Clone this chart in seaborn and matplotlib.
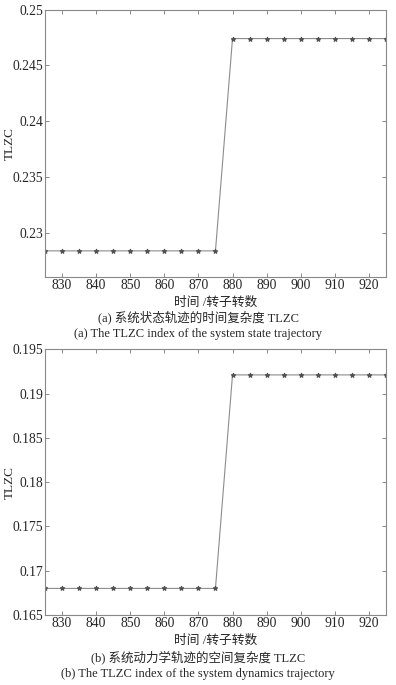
"""  TLZC index of rotor system trajectories (two stacked panels)  """

import matplotlib
matplotlib.use('Agg')
import matplotlib.pyplot as plt
import numpy as np
import pandas as pd
import seaborn as sns


# ~~~~~~~~~~   Data   ~~~~~~~~~~~~~~~~~~~~~~~~~~~~~~~~~~~~~~~~~~~~~~~~~~~~~~~~~~~~~~~~~ #
revs = [825, 830, 835, 840, 845, 850, 855, 860, 865, 870, 875,
        880, 885, 890, 895, 900, 905, 910, 915, 920, 925]
tlzc_state = [0.2284] * 11 + [0.2474] * 10
tlzc_dynamics = [0.1680] * 11 + [0.1921] * 10

x_ticks = [830, 840, 850, 860, 870, 880, 890, 900, 910, 920]
y_ticks_a = [0.23, 0.235, 0.24, 0.245, 0.25]
y_ticks_b = [0.165, 0.17, 0.175, 0.18, 0.185, 0.19, 0.195]

xlabel = '时间 /转子转数'
captions_a = ['(a) 系统状态轨迹的时间复杂度 TLZC',
              '(a) The TLZC index of the system state trajectory']
captions_b = ['(b) 系统动力学轨迹的空间复杂度 TLZC',
              '(b) The TLZC index of the system dynamics trajectory']


# ~~~~~~~~~~   Definition of Functions   ~~~~~~~~~~~~~~~~~~~~~~~~~~~~~~~~~~~~~~~~~~~~~~~ #
def draw_panel(axes, values, yticks, ylim):
    frame = pd.DataFrame({'rev': revs, 'tlzc': values})
    sns.lineplot(data=frame, x='rev', y='tlzc', ax=axes, color='#8c8c8c',
                 linewidth=0.8, marker='*', markersize=3.5,
                 markeredgecolor='#505050', markerfacecolor='#505050')
    axes.set_xlim(825, 925)
    axes.set_ylim(*ylim)
    axes.set_xticks(x_ticks)
    axes.set_yticks(yticks)
    axes.set_yticklabels([f'{t:g}' for t in yticks])
    axes.set_xlabel(xlabel, fontsize=9.2, labelpad=3)
    axes.set_ylabel('TLZC', fontsize=9.5)
    axes.yaxis.set_label_coords(-0.085, 0.5)
    axes.tick_params(direction='in', top=True, right=True, length=3,
                     width=0.6, color='#777777', labelsize=9.8, pad=1.5)
    for spine in axes.spines.values():
        spine.set_visible(True)
        spine.set_color('#888888')
        spine.set_linewidth(0.8)
# end function draw_panel


# ~~~~~~~~~~  Program Execution   ~~~~~~~~~~~~~~~~~~~~~~~~~~~~~~~~~~~~~~~~~~~~~~~~~~~~~ #
sns.set_style('ticks')
plt.rcParams['font.family'] = ['Liberation Serif', 'Noto Sans CJK SC']

fig = plt.figure(figsize=(3.96, 6.85), dpi=100)
ax_a = fig.add_axes([0.1136, 0.5956, 0.861, 0.3905])
ax_b = fig.add_axes([0.1136, 0.1022, 0.861, 0.3880])

draw_panel(ax_a, tlzc_state, y_ticks_a, (0.22606, 0.25))
draw_panel(ax_b, tlzc_dynamics, y_ticks_b, (0.165, 0.195))

fig.text(0.5, 1 - 317 / 685, captions_a[0], ha='center', va='center', fontsize=9)
fig.text(0.5, 1 - 334 / 685, captions_a[1], ha='center', va='center', fontsize=9)
fig.text(0.5, 1 - 657 / 685, captions_b[0], ha='center', va='center', fontsize=9)
fig.text(0.5, 1 - 674 / 685, captions_b[1], ha='center', va='center', fontsize=9)

fig.savefig('out.png', dpi=100)
